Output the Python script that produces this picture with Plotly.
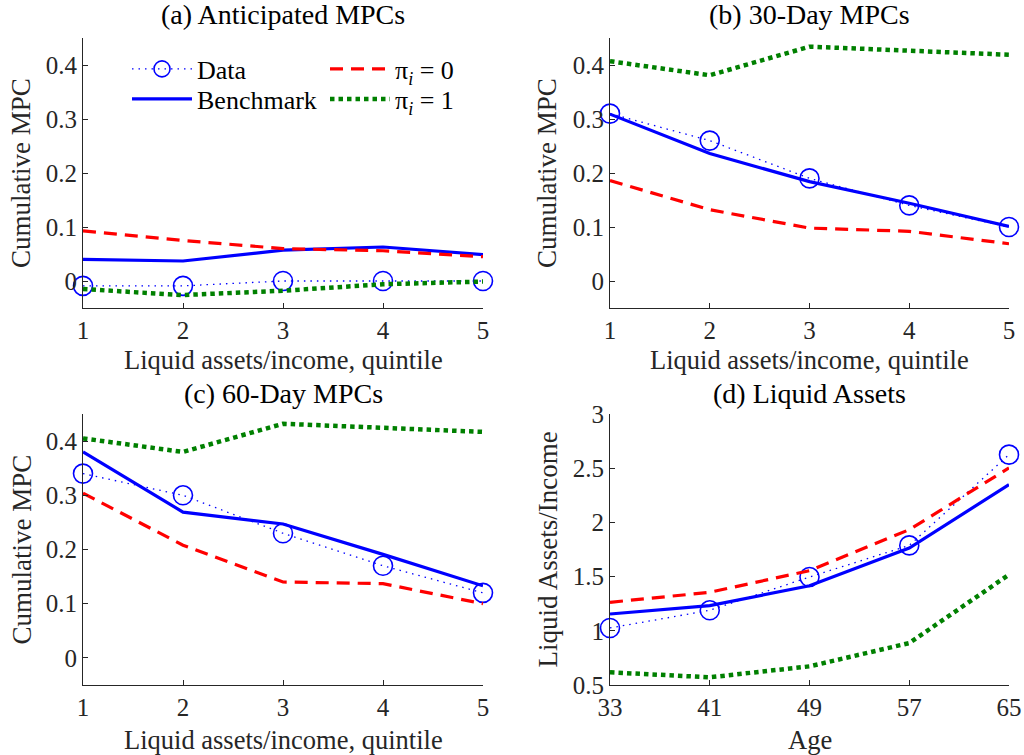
import plotly.graph_objects as go

W, H = 1024, 755
FONT = "Liberation Serif"
BLUE, RED, GREEN = "#0000ff", "#ff0000", "#008000"
AXC = "#262626"

quintiles = [1, 2, 3, 4, 5]
ages = [33, 41, 49, 57, 65]

# (a) Anticipated MPCs
a_data = [-0.009, -0.009, 0.0, 0.0, 0.0]
a_bench = [0.040, 0.037, 0.057, 0.063, 0.049]
a_pi0 = [0.093, 0.075, 0.060, 0.056, 0.045]
a_pi1 = [-0.015, -0.026, -0.018, -0.006, -0.001]

# (b) 30-Day MPCs
b_data = [0.31, 0.26, 0.19, 0.14, 0.10]
b_bench = [0.309, 0.236, 0.184, 0.144, 0.101]
b_pi0 = [0.186, 0.132, 0.098, 0.092, 0.069]
b_pi1 = [0.407, 0.381, 0.434, 0.426, 0.419]

# (c) 60-Day MPCs
c_data = [0.34, 0.30, 0.23, 0.17, 0.12]
c_bench = [0.380, 0.269, 0.247, 0.191, 0.133]
c_pi0 = [0.304, 0.208, 0.140, 0.137, 0.100]
c_pi1 = [0.405, 0.380, 0.432, 0.424, 0.417]

# (d) Liquid Assets
d_data = [1.026, 1.189, 1.496, 1.788, 2.625]
d_bench = [1.155, 1.232, 1.416, 1.764, 2.348]
d_pi0 = [1.263, 1.355, 1.555, 1.933, 2.502]
d_pi1 = [0.617, 0.571, 0.672, 0.887, 1.518]

mpc_tickvals = [0, 0.1, 0.2, 0.3, 0.4]
mpc_ticktext = ["0", "0.1", "0.2", "0.3", "0.4"]
la_tickvals = [0.5, 1, 1.5, 2, 2.5, 3]
la_ticktext = ["0.5", "1", "1.5", "2", "2.5", "3"]

titles = ["(a) Anticipated MPCs", "(b) 30-Day MPCs", "(c) 60-Day MPCs", "(d) Liquid Assets"]
xtitles = ["Liquid assets/income, quintile"] * 3 + ["Age"]
ytitles = ["Cumulative MPC"] * 3 + ["Liquid Assets/Income"]
names = ["Data", "Benchmark", "π<sub><i>i</i></sub> = 0", "π<sub><i>i</i></sub> = 1"]

panels = [
    (quintiles, a_data, a_bench, a_pi0, a_pi1),
    (quintiles, b_data, b_bench, b_pi0, b_pi1),
    (quintiles, c_data, c_bench, c_pi0, c_pi1),
    (ages, d_data, d_bench, d_pi0, d_pi1),
]

# pixel boxes (left, right, top, bottom)
boxes = [(83, 483, 38, 308), (610, 1009, 38, 308), (83, 483, 414, 685), (610, 1009, 414, 685)]

fig = go.Figure()
for k, (xs, dat, ben, p0, p1) in enumerate(panels):
    sfx = "" if k == 0 else str(k + 1)
    xa, ya = "x" + sfx, "y" + sfx
    show = k == 0
    fig.add_trace(go.Scatter(x=xs, y=dat, mode="lines+markers", name=names[0],
                             line=dict(color=BLUE, width=1.3, dash="1.5px,5px"),
                             marker=dict(symbol="circle-open", size=19, color=BLUE, line=dict(width=1.6)),
                             xaxis=xa, yaxis=ya, showlegend=show, legend="legend", cliponaxis=False))
    fig.add_trace(go.Scatter(x=xs, y=ben, mode="lines", name=names[1],
                             line=dict(color=BLUE, width=3.2),
                             xaxis=xa, yaxis=ya, showlegend=show, legend="legend2", cliponaxis=False))
    fig.add_trace(go.Scatter(x=xs, y=p0, mode="lines", name=names[2],
                             line=dict(color=RED, width=3.2, dash="13px,8px"),
                             xaxis=xa, yaxis=ya, showlegend=show, legend="legend3", cliponaxis=False))
    fig.add_trace(go.Scatter(x=xs, y=p1, mode="lines", name=names[3],
                             line=dict(color=GREEN, width=4.5, dash="4.5px,4px"),
                             xaxis=xa, yaxis=ya, showlegend=show, legend="legend4", cliponaxis=False))

layout = dict(width=W, height=H, margin=dict(l=0, r=0, t=0, b=0, autoexpand=False),
              plot_bgcolor="white", paper_bgcolor="white",
              font=dict(family=FONT, size=24, color="black"))

annotations = []
for k, (l, r, t, b) in enumerate(boxes):
    sfx = "" if k == 0 else str(k + 1)
    xs = panels[k][0]
    axis_common = dict(showline=True, linecolor=AXC, linewidth=1, mirror=False,
                       ticks="inside", ticklen=5, tickcolor=AXC, tickwidth=1,
                       showgrid=False, zeroline=False, automargin=False,
                       tickfont=dict(family=FONT, size=25, color=AXC))
    layout["xaxis" + sfx] = dict(axis_common, domain=[l / W, r / W], range=[xs[0], xs[-1]],
                                 tickvals=xs, ticktext=[str(v) for v in xs],
                                 anchor="y" + sfx)
    if k < 3:
        yr, tv, tt = [-0.05, 0.45], mpc_tickvals, mpc_ticktext
    else:
        yr, tv, tt = [0.5, 3], la_tickvals, la_ticktext
    layout["yaxis" + sfx] = dict(axis_common, domain=[1 - b / H, 1 - t / H], range=yr,
                                 tickvals=tv, ticktext=tt, anchor="x" + sfx)
    cx = (l + r) / 2
    ty = 15 if k < 2 else 393
    annotations.append(dict(text=titles[k], x=cx / W, y=1 - ty / H, xref="paper", yref="paper",
                            showarrow=False, xanchor="center", yanchor="middle",
                            font=dict(family=FONT, size=28, color="black")))
    xty = 360 if k < 2 else 740
    annotations.append(dict(text=xtitles[k], x=cx / W, y=1 - xty / H, xref="paper", yref="paper",
                            showarrow=False, xanchor="center", yanchor="middle",
                            font=dict(family=FONT, size=26.5, color=AXC)))
    ytx = 21 if k % 2 == 0 else 547
    annotations.append(dict(text=ytitles[k], x=ytx / W, y=1 - ((t + b) / 2) / H, xref="paper", yref="paper",
                            showarrow=False, xanchor="center", yanchor="middle", textangle=-90,
                            font=dict(family=FONT, size=27, color=AXC)))

layout["annotations"] = annotations
leg_common = dict(bgcolor="rgba(0,0,0,0)", borderwidth=0, orientation="v",
                  font=dict(family=FONT, size=26, color="black"),
                  yanchor="middle", xanchor="left", itemwidth=60, tracegroupgap=0)
layout["legend"] = dict(leg_common, x=127 / W, y=1 - 69 / H)
layout["legend2"] = dict(leg_common, x=127 / W, y=1 - 99 / H)
layout["legend3"] = dict(leg_common, x=325 / W, y=1 - 69 / H)
layout["legend4"] = dict(leg_common, x=325 / W, y=1 - 99 / H)

fig.update_layout(**layout)
fig.write_html("out.html", config={"displayModeBar": False},
               post_script="document.body.style.margin='0';document.body.style.overflow='hidden';")
